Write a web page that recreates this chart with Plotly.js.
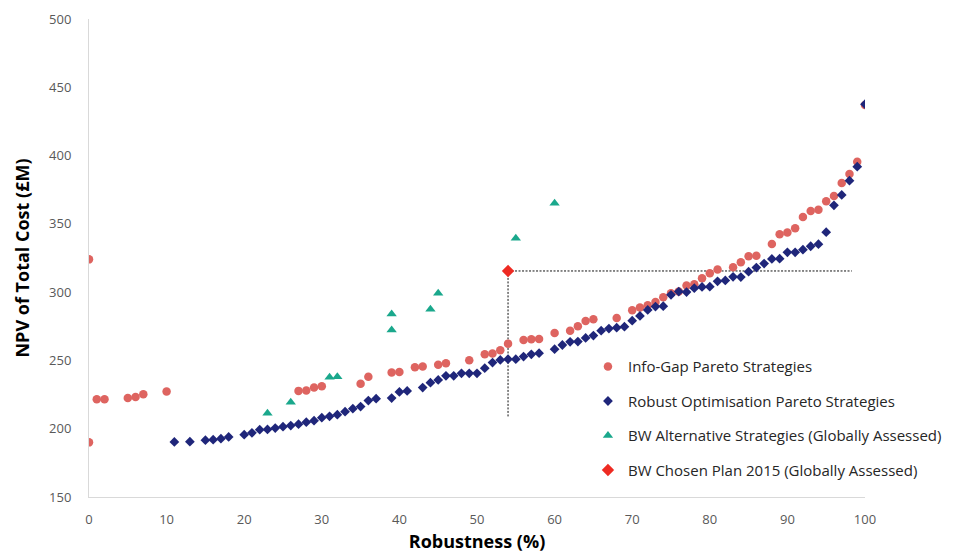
<!DOCTYPE html>
<html>
<head>
<meta charset="utf-8">
<script src="https://cdn.plot.ly/plotly-3.0.1.min.js"></script>
<style>html,body{margin:0;padding:0;background:#fff;}#chart{width:965px;height:558px;}</style>
</head>
<body>
<div id="chart"></div>
<script>
// Info-Gap Pareto Strategies (red circles)
const infoGapX = [0,0,1,2,5,6,7,10,27,28,29,30,35,36,39,40,42,43,45,46,49,51,52,53,54,56,57,58,60,62,63,64,65,68,70,71,72,73,74,75,76,77,78,79,80,81,83,84,85,86,88,89,90,91,92,93,94,95,96,97,98,99,100];
const infoGapY = [324,190,221.6,221.6,222.5,223.3,225.3,227.2,227.7,228,230.1,231.1,233,238.1,241.1,241.6,245,245.5,246.9,248,250.1,254.5,255,257.5,262.3,265,265.5,265.7,270.1,271.8,275.1,278.9,280.2,281.1,286.7,288.7,290.4,292.8,296.3,299.2,300.4,304.8,305.8,310.2,313.8,316.5,318.2,321.9,326.3,326.7,335.3,342.4,343.6,346.8,355,359.4,360.4,366.5,370.4,379.9,386.5,395.5,437];

// Robust Optimisation Pareto Strategies (navy diamonds)
const robustX = [11,13,15,16,17,18,20,21,22,23,24,25,26,27,28,29,30,31,32,33,34,35,36,37,39,40,41,43,44,45,46,47,48,49,50,51,52,53,54,55,56,57,58,60,61,62,63,64,65,66,67,68,69,70,71,72,73,74,75,76,77,78,79,80,81,82,83,84,85,86,87,88,89,90,91,92,93,94,95,96,97,98,99,100];
const robustY = [190.3,190.5,191.6,192.0,192.7,194.0,195.6,197.0,199.3,199.5,200.5,201.5,202.3,203.3,204.8,205.9,208.1,209.1,210.3,212.5,214.7,216.2,220.6,222.0,222.4,226.9,227.7,230.1,233.7,235.7,238.7,238.7,240.6,240.6,240.6,244.3,248.4,250.4,250.9,250.9,252.8,254.5,255.3,258.2,261.3,263.6,263.8,266.5,268.2,271.8,273.3,274.0,274.7,279.1,282.6,287.0,289.4,289.7,298.0,300.4,300.1,302.9,303.8,304.0,307.9,308.6,311.2,311.0,315.0,318.0,320.9,324.3,324.5,329.2,329.2,331.1,333.6,335.1,343.9,363.6,371.2,381.6,391.9,437.6];

// BW Alternative Strategies (teal triangles)
const altX = [23,26,31,32,39,39,44,45,55,60];
const altY = [211.3,219.4,237.7,238.1,284,272.3,287.5,299.2,339.5,365.1];

// BW Chosen Plan 2015 (red diamond)
const chosenX = [54];
const chosenY = [315.5];

// Dashed guide lines through the chosen plan
const guideX = [54,54,null,54,98.3];
const guideY = [209,315.5,null,315.5,315.5];

const xTicks = [0,10,20,30,40,50,60,70,80,90,100];
const yTicks = [150,200,250,300,350,400,450,500];

const traces = [
  {x: guideX, y: guideY, mode: 'lines', type: 'scatter', showlegend: false, hoverinfo: 'skip',
   line: {color: '#111111', width: 1, dash: '2px,1.5px'}},
  {x: infoGapX, y: infoGapY, mode: 'markers', type: 'scatter', name: 'Info-Gap Pareto Strategies', legendgroup: 'a',
   marker: {symbol: 'circle', size: 8.5, color: '#DE6460'}},
  {x: robustX, y: robustY, mode: 'markers', type: 'scatter', name: 'Robust Optimisation Pareto Strategies', legendgroup: 'b',
   marker: {symbol: 'diamond', size: 7.5, color: '#1F267A'}},
  {x: altX, y: altY, mode: 'markers', type: 'scatter', name: 'BW Alternative Strategies (Globally Assessed)', legendgroup: 'c',
   marker: {symbol: 'triangle-up', size: 9, color: '#1AA88C'}},
  {x: chosenX, y: chosenY, mode: 'markers', type: 'scatter', name: 'BW Chosen Plan 2015 (Globally Assessed)', legendgroup: 'd',
   marker: {symbol: 'diamond', size: 9.5, color: '#EE2A22'}}
];

const layout = {
  width: 965, height: 558,
  margin: {l: 89, r: 100, t: 19, b: 61},
  paper_bgcolor: '#ffffff', plot_bgcolor: '#ffffff',
  font: {family: 'Open Sans, sans-serif', color: '#595959'},
  xaxis: {
    range: [0, 100], tickvals: xTicks, ticktext: xTicks.map(String),
    showgrid: false, zeroline: false, showline: true, linecolor: '#d9d9d9', linewidth: 1,
    ticks: '', ticklabelstandoff: 10, tickfont: {size: 13, color: '#595959'},
    title: {text: 'Robustness (%)', font: {size: 18, color: '#000000', weight: 'bold'}, standoff: 8}
  },
  yaxis: {
    range: [150, 500], tickvals: yTicks, ticktext: yTicks.map(String),
    showgrid: false, zeroline: false, showline: true, linecolor: '#d9d9d9', linewidth: 1,
    ticks: '', ticklabelstandoff: 14, tickfont: {size: 13, color: '#595959'},
    title: {text: 'NPV of Total Cost (£M)', font: {size: 18, color: '#000000', weight: 'bold'}, standoff: 14}
  },
  legend: {
    x: 0.643, y: 0.307, xanchor: 'left', yanchor: 'top',
    bgcolor: 'rgba(255,255,255,0)', borderwidth: 0,
    traceorder: 'grouped', tracegroupgap: 12,
    font: {size: 15, color: '#262626'}
  },
  showlegend: true
};

Plotly.newPlot('chart', traces, layout, {displayModeBar: false, staticPlot: true});
</script>
</body>
</html>
